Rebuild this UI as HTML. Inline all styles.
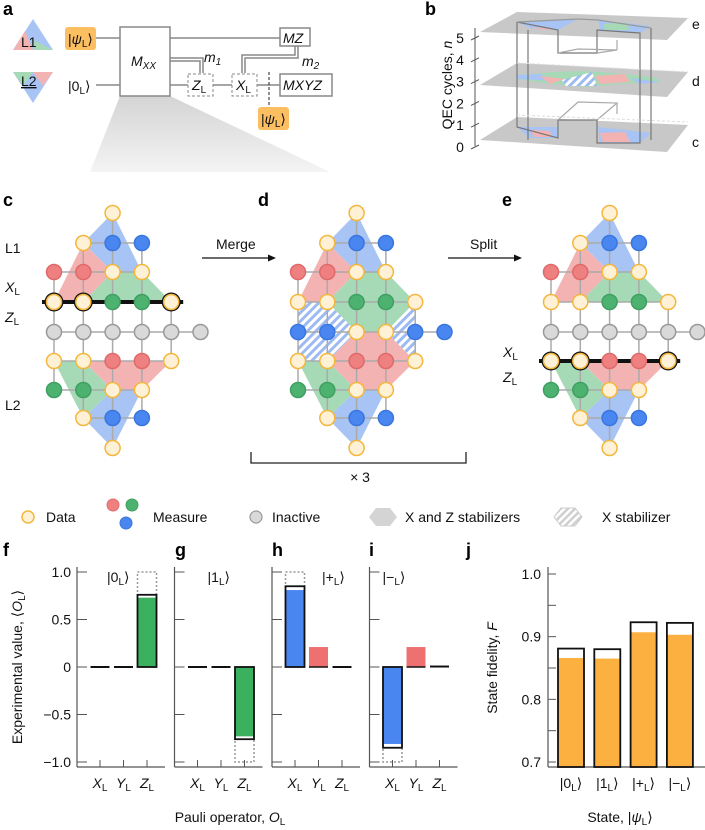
<!DOCTYPE html>
<html><head><meta charset="utf-8"><style>
body{margin:0;background:#fff}
svg{display:block;font-family:"Liberation Sans",sans-serif}
.pl{font-weight:bold;font-size:18px}
.t{font-size:14px;fill:#111}
.it{font-style:italic}
</style></head><body>
<svg id="fig" width="705" height="830" viewBox="0 0 705 830" xmlns="http://www.w3.org/2000/svg">
<defs>
<pattern id="hatch" width="6" height="6" patternUnits="userSpaceOnUse" patternTransform="rotate(45)">
<rect width="6" height="6" fill="#fff"/><rect width="3" height="6" fill="#9dbbf2"/></pattern>
<pattern id="hatchg" width="5" height="5" patternUnits="userSpaceOnUse" patternTransform="rotate(45)">
<rect width="5" height="5" fill="#fff"/><rect width="2.5" height="5" fill="#cfcfcf"/></pattern>
<linearGradient id="wedge" x1="0" y1="0" x2="0" y2="1"><stop offset="0" stop-color="#d4d4d4"/><stop offset="1" stop-color="#f4f4f4"/></linearGradient>
</defs>

<!-- Panel a -->
<g>
<polygon points="120,96 170,96 330,172 90,172" fill="url(#wedge)"/>
<text class="pl" x="3" y="15">a</text>
<g>
<polygon points="33,19 13,50 53,50" fill="#a8c4f4"/><polygon points="25,31 13,50 33,50" fill="#f3b3b3"/><polygon points="33,40 53,50 33,50" fill="#a6d9b6"/>
<text x="21" y="47" class="t">L1</text></g>
<g>
<polygon points="13,72 53,72 33,103" fill="#a8c4f4"/><polygon points="33,72 53,72 43,86" fill="#f3b3b3"/><polygon points="13,72 33,72 23,86" fill="#a6d9b6"/>
<text x="21" y="86" class="t" text-decoration="underline">L2</text></g>
<g stroke="#888" stroke-width="1.5" fill="none">
<line x1="96" y1="38" x2="120" y2="38"/><line x1="170" y1="38" x2="280" y2="38"/>
<line x1="96" y1="85" x2="120" y2="85"/><line x1="170" y1="85" x2="188" y2="85"/>
<line x1="213" y1="85" x2="232" y2="85"/><line x1="257" y1="85" x2="280" y2="85"/>
<polyline points="170,58 203,58 203,73"/><polyline points="170,61 200,61 200,73"/>
<polyline points="298,46 298,58 245,58 245,73"/><polyline points="295,46 295,55 242,55 242,73"/>
</g>
<rect x="65" y="27" width="31" height="23" rx="3" fill="#fbbf62"/>
<text x="68" y="44" class="t">|<tspan class="it">ψ</tspan><tspan font-size="10" dy="3">L</tspan><tspan dy="-3">⟩</tspan></text>
<text x="68" y="91" class="t">|0<tspan font-size="10" dy="3">L</tspan><tspan dy="-3">⟩</tspan></text>
<rect x="120" y="27" width="50" height="69" fill="#fff" stroke="#888" stroke-width="1.5"/>
<text x="131" y="66" class="t it">M<tspan font-size="10" dy="3">XX</tspan></text>
<text x="204" y="62" class="t it">m<tspan font-size="10" dy="3">1</tspan></text>
<text x="302" y="66" class="t it">m<tspan font-size="10" dy="3">2</tspan></text>
<rect x="280" y="28" width="30" height="18" fill="#fff" stroke="#888" stroke-width="1.5"/>
<text x="283" y="43" class="t it">MZ</text>
<rect x="188" y="74" width="25" height="22" fill="#fff" stroke="#888" stroke-dasharray="3,2"/>
<text x="192" y="90" class="t it">Z<tspan font-size="10" dy="3" font-style="normal">L</tspan></text>
<rect x="232" y="74" width="25" height="22" fill="#fff" stroke="#888" stroke-dasharray="3,2"/>
<text x="236" y="90" class="t it">X<tspan font-size="10" dy="3" font-style="normal">L</tspan></text>
<line x1="269" y1="72" x2="269" y2="106" stroke="#222" stroke-dasharray="3,2"/>
<rect x="280" y="74" width="52" height="22" fill="#fff" stroke="#888" stroke-width="1.5"/>
<text x="283" y="90" class="t it">MXYZ</text>
<rect x="258" y="107" width="31" height="23" rx="3" fill="#fbbf62"/>
<text x="261" y="124" class="t">|<tspan class="it">ψ</tspan><tspan font-size="10" dy="3">L</tspan><tspan dy="-3">⟩</tspan></text>
</g>

<!-- Panel b -->
<g>
<text class="pl" x="425" y="15">b</text>
<polygon points="517,12 688,18 667,40 480,32" fill="#c8c8c8"/>
<polygon points="517,63 688,72 667,97 480,85" fill="#c8c8c8"/>
<polygon points="517,117 688,125 667,152 480,140" fill="#c8c8c8"/>
<polygon points="517,22 578,19 558,30 530,28" fill="#a8c4f4"/><polygon points="530,27 555,29 558,30 540,29" fill="#f3b3b3"/>
<polygon points="598,20 651,26 640,33 600,30" fill="#a8c4f4"/><polygon points="603,24 625,22 630,30 605,30" fill="#a6d9b6"/>
<polygon points="517,75 555,72 586,71 625,74 657,78 660,82 620,84 585,87 550,84 517,79" fill="#a6d9b6"/>
<polygon points="517,75 540,74 555,81 517,79" fill="#a8c4f4"/><polygon points="540,76 565,79 550,84" fill="#f3b3b3"/>
<polygon points="562,80 592,72 597,86 566,86" fill="url(#hatch)"/>
<polygon points="595,76 625,74 630,82 600,84" fill="#f3b3b3"/><polygon points="630,78 660,82 640,84" fill="#a8c4f4"/>
<polygon points="517,127 558,127 558,138 530,138" fill="#a8c4f4"/><polygon points="530,130 550,131 552,137 534,137" fill="#f3b3b3"/>
<polygon points="598,127 651,133 640,143 600,143" fill="#a8c4f4"/><polygon points="600,133 625,132 630,142 603,142" fill="#f3b3b3"/>
<g stroke="#777" stroke-width="1.2" fill="none">
<polyline points="517,22 558,30 558,53 597,53 597,30 640,33 640,143 597,143 597,120 558,120 558,138 517,127 517,22"/>
<line x1="528" y1="30" x2="528" y2="140"/><line x1="651" y1="28" x2="651" y2="140"/>
<polyline points="517,22 578,19 598,20 651,28" stroke="#999"/>
<polyline points="558,53 578,49 617,50 597,53" stroke="#aaa"/><line x1="617" y1="50" x2="617" y2="40" stroke="#aaa"/>
<polyline points="558,120 578,102 617,103 597,120" stroke="#aaa"/><line x1="617" y1="103" x2="617" y2="114" stroke="#aaa"/>
</g>
<line x1="517" y1="63" x2="688" y2="72" stroke="#ddd" stroke-dasharray="3,2"/>
<line x1="517" y1="115" x2="688" y2="122" stroke="#ddd" stroke-dasharray="3,2"/>
<line x1="475" y1="28" x2="475" y2="146" stroke="#555"/>
<g id="baxis" class="t"></g>
<text class="t" transform="translate(452,85) rotate(-90)" text-anchor="middle">QEC cycles, <tspan class="it">n</tspan></text>
<text class="t" x="692" y="29">e</text><text class="t" x="692" y="86">d</text><text class="t" x="692" y="147">c</text>
</g>

<!-- Lattice panels -->
<g id="lattices"></g>
<text class="pl" x="3" y="206">c</text><text class="pl" x="258" y="206">d</text><text class="pl" x="502" y="206">e</text>
<text class="t" x="5" y="253">L1</text>
<text class="t it" x="5" y="292">X<tspan font-size="10" dy="3" font-style="normal">L</tspan></text>
<text class="t it" x="5" y="322">Z<tspan font-size="10" dy="3" font-style="normal">L</tspan></text>
<text class="t" x="5" y="410">L2</text>
<text class="t it" x="503" y="357">X<tspan font-size="10" dy="3" font-style="normal">L</tspan></text>
<text class="t it" x="503" y="382">Z<tspan font-size="10" dy="3" font-style="normal">L</tspan></text>
<g><text class="t" x="216" y="249">Merge</text>
<line x1="202" y1="258" x2="272" y2="258" stroke="#111" stroke-width="1.3"/><polygon points="276,258 268,254.5 268,261.5" fill="#111"/></g>
<g><text class="t" x="470" y="249">Split</text>
<line x1="448" y1="258" x2="518" y2="258" stroke="#111" stroke-width="1.3"/><polygon points="522,258 514,254.5 514,261.5" fill="#111"/></g>
<polyline points="251,452 251,463 466,463 466,452" fill="none" stroke="#222" stroke-width="1.3"/>
<text class="t" x="360" y="482" text-anchor="middle">× 3</text>

<!-- Legend -->
<g class="t">
<circle cx="28" cy="517" r="6" fill="#fff1d6" stroke="#f4b73d" stroke-width="1.5"/><text x="46" y="522">Data</text>
<circle cx="113" cy="505" r="6" fill="#ef8080" stroke="#e26d6d"/><circle cx="132" cy="505" r="6" fill="#4db26f" stroke="#3fa062"/><circle cx="126" cy="523" r="6" fill="#4a86ef" stroke="#3a76df"/>
<text x="153" y="522">Measure</text>
<circle cx="256" cy="517" r="6" fill="#d9d9d9" stroke="#999" stroke-width="1.2"/><text x="272" y="522">Inactive</text>
<polygon points="376,508 390,508 397,517 390,526 376,526 369,517" fill="#d4d4d4"/><text x="405" y="522">X and Z stabilizers</text>
<polygon points="561,508 575,508 582,517 575,526 561,526 554,517" fill="url(#hatchg)" stroke="#ccc"/><text x="602" y="522">X stabilizer</text>
</g>

<!-- Bottom charts -->
<g id="charts"></g>
<text class="pl" x="3" y="556">f</text><text class="pl" x="175" y="556">g</text><text class="pl" x="272" y="556">h</text><text class="pl" x="369" y="556">i</text><text class="pl" x="466" y="556">j</text>
<text class="t" transform="translate(22,667) rotate(-90)" text-anchor="middle">Experimental value, ⟨<tspan class="it">O</tspan><tspan font-size="10" dy="3">L</tspan><tspan dy="-3">⟩</tspan></text>
<text class="t" x="230" y="822" text-anchor="middle">Pauli operator, <tspan class="it">O</tspan><tspan font-size="10" dy="3">L</tspan></text>
<text class="t" transform="translate(497,668) rotate(-90)" text-anchor="middle">State fidelity, <tspan class="it">F</tspan></text>
<text class="t" x="620" y="822" text-anchor="middle">State, |<tspan class="it">ψ</tspan><tspan font-size="10" dy="3">L</tspan><tspan dy="-3">⟩</tspan></text>
</svg>
<script>
const NS="http://www.w3.org/2000/svg";
// ---- chart data ----
const pauliOps=["X","Y","Z"];
const expStates=["0","1","+","−"];
const expFill=[[0,0,0.73],[0,0,-0.73],[0.81,0.21,0],[-0.81,0.21,0.005]];
const expOutline=[[0,0,0.76],[0,0,-0.76],[0.85,0,0],[-0.85,0,0]];
const expIdeal=[[0,0,1],[0,0,-1],[1,0,0],[-1,0,0]];
const expTicks=[1,0.5,0,-0.5,-1];
const expTickLabels=["1.0","0.5","0","−0.5","−1.0"];
const fidStates=["0","1","+","−"];
const fidMeasured=[0.866,0.865,0.907,0.903];
const fidOutline=[0.881,0.880,0.923,0.922];
const fidTicks=[1.0,0.9,0.8,0.7];
const fidMinor=[0.95,0.85,0.75];
const cycleTicks=[0,1,2,3,4,5];

function mk(tag,attrs,parent){const e=document.createElementNS(NS,tag);for(const k in attrs)e.setAttribute(k,attrs[k]);if(parent)parent.appendChild(e);return e;}
const charts=document.getElementById('charts');
// b axis
const bax=document.getElementById('baxis');
cycleTicks.forEach(n=>{const y=147-n*21.8;
 const l=mk('line',{x1:471,y1:y+2,x2:479,y2:y-2,stroke:'#555'},bax);
 
 
 const t=mk('text',{x:460,y:y+5,'text-anchor':'middle'},bax);t.textContent=n;
 
 });

// expectation panels
const yE=v=>667-v*95;
const barColor=(s,o)=>o===2?"#3bb05f":(o===0?"#4a86ef":"#ef7070");
expStates.forEach((s,k)=>{
 const x0=77+k*97.5;
 const g=mk('g',{},charts);
 
 
 mk('line',{x1:x0,y1:567,x2:x0,y2:767,stroke:'#555','stroke-width':1.2},g);
 mk('line',{x1:x0,y1:767,x2:x0+88,y2:767,stroke:'#555','stroke-width':1.2},g);
 expTicks.forEach((v,i)=>{mk('line',{x1:x0,y1:yE(v),x2:x0+10,y2:yE(v),stroke:'#555'},g);
  if(k===0){const t=mk('text',{x:x0-6,y:yE(v)+5,'text-anchor':'end',class:'t'},g);t.textContent=expTickLabels[i];}});
 const lab=mk('text',{x:x0+[30,33,50,13][k],y:582,class:'t'},g);
 lab.innerHTML='|'+s+'<tspan font-size="10" dy="3">L</tspan><tspan dy="-3">⟩</tspan>';
 pauliOps.forEach((o,j)=>{
  const cx=x0+23+j*23.5,w=19;
  mk('line',{x1:cx,y1:767,x2:cx,y2:760,stroke:'#555'},g);
  const tl=mk('text',{x:cx,y:788,'text-anchor':'middle',class:'t it'},g);
  tl.innerHTML=o+'<tspan font-size="10" dy="3" font-style="normal">L</tspan>';
  const id=expIdeal[k][j],f=expFill[k][j],ol=expOutline[k][j];
  if(id!==0){const r=mk('rect',{x:cx-w/2,y:Math.min(yE(id),yE(0)),width:w,height:Math.abs(yE(id)-yE(0)),fill:'none',stroke:'#999','stroke-width':1.5,'stroke-dasharray':'2,2'},g);
   
   }
  if(Math.abs(f)>0.02){const b=mk('rect',{x:cx-w/2,y:Math.min(yE(f),yE(0)),width:w,height:Math.abs(yE(f)-yE(0)),fill:barColor(k,j)},g);
   
   }
  if(ol!==0){const b=mk('rect',{x:cx-w/2,y:Math.min(yE(ol),yE(0)),width:w,height:Math.abs(yE(ol)-yE(0)),fill:'none',stroke:'#111','stroke-width':1.8},g);
   
   }
  else if(Math.abs(f)<=0.02){const z=mk('rect',{x:cx-w/2,y:yE(Math.max(f,0))-1,width:w,height:Math.max(2,Math.abs(yE(f)-yE(0))),fill:'#111'},g);
   
   }
  else {mk('line',{x1:cx-w/2,y1:yE(0),x2:cx+w/2,y2:yE(0),stroke:'#111','stroke-width':1.5},g);}
 });
});

// fidelity panel
const yF=v=>762-(v-0.7)/0.3*188;
const gj=mk('g',{},charts);


mk('line',{x1:548,y1:567,x2:548,y2:767,stroke:'#555','stroke-width':1.2},gj);
mk('line',{x1:548,y1:767,x2:705,y2:767,stroke:'#555','stroke-width':1.2},gj);
fidTicks.forEach(v=>{mk('line',{x1:548,y1:yF(v),x2:556,y2:yF(v),stroke:'#555'},gj);
 const t=mk('text',{x:541,y:yF(v)+5,'text-anchor':'end',class:'t'},gj);t.textContent=v.toFixed(1);});
fidMinor.forEach(v=>mk('line',{x1:548,y1:yF(v),x2:556,y2:yF(v),stroke:'#555'},gj));
fidStates.forEach((s,i)=>{const cx=571+i*36.3,w=26;
 const b=mk('rect',{x:cx-w/2,y:yF(fidMeasured[i]),width:w,height:767-yF(fidMeasured[i]),fill:'#fbb040'},gj);
 
 
 const o=mk('rect',{x:cx-w/2,y:yF(fidOutline[i]),width:w,height:767-yF(fidOutline[i]),fill:'none',stroke:'#111','stroke-width':1.8},gj);
 
 
 const t=mk('text',{x:cx,y:788,'text-anchor':'middle',class:'t'},gj);
 t.innerHTML='|'+s+'<tspan font-size="10" dy="3">L</tspan><tspan dy="-3">⟩</tspan>';});

// ---- lattices ----
const lat=document.getElementById('lattices');
const rowsY=[213,243,272,302,332,361,390,418,448];
const gridC=["..D...",".DBB..","RRDD..","DDGGD.","IIIIII","DDRRD.","GGDD..",".DBB..","..D..."];
const gridD=["..D...",".DBB..","RRDD..","DDGGD.","BBDDBB","DDRRD.","GGDD..",".DBB..","..D..."];
const panels=[{x0:54,grid:gridC,hl:3,name:'lattice-c'},{x0:298,grid:gridD,hl:-1,name:'lattice-d'},{x0:551,grid:gridC,hl:5,name:'lattice-e'}];
const nodeStyle={D:['#fff1d6','#f4b73d'],R:['#ef8080','#e06a6a'],G:['#4db26f','#3fa062'],B:['#4a86ef','#3a76df'],I:['#d9d9d9','#999']};
panels.forEach(p=>{
 const g=mk('g',{},lat);
 
 
 const P=(c,r)=>(p.x0+c*29.3)+','+rowsY[r];
 const poly=(pts,fill)=>mk('polygon',{points:pts.map(q=>P(q[0],q[1])).join(' '),fill:fill},g);
 poly([[2,0],[1,1],[2,2],[3,2]],'#a8c4f4');
 poly([[1,1],[0,3],[1,3],[2,2]],'#f3b3b3');
 poly([[2,6],[3,6],[2,8],[1,7]],'#a8c4f4');
 poly([[0,5],[1,5],[2,6],[1,7]],'#a6d9b6');
 if(p.hl<0){
  poly([[1,3],[2,2],[3,2],[4,3],[3,4],[2,4]],'#a6d9b6');
  poly([[1,5],[2,4],[3,4],[4,5],[3,6],[2,6]],'#f3b3b3');
  poly([[0,3],[1,3],[2,4],[1,5],[0,5]],'url(#hatch)');
  poly([[4,3],[4,5],[3,4]],'url(#hatch)');
 } else {
  poly([[1,3],[2,2],[3,2],[4,3]],'#a6d9b6');
  poly([[1,5],[2,6],[3,6],[4,5]],'#f3b3b3');
 }
 const X=c=>p.x0+c*29.3;
 const gr=p.grid;
 for(let r=0;r<9;r++)for(let c=0;c<6;c++){if(gr[r][c]==='.')continue;
  if(c<5&&gr[r][c+1]!=='.')mk('line',{x1:X(c),y1:rowsY[r],x2:X(c+1),y2:rowsY[r],stroke:'#aaa','stroke-width':1.5},g);
  if(r<8&&gr[r+1][c]!=='.')mk('line',{x1:X(c),y1:rowsY[r],x2:X(c),y2:rowsY[r+1],stroke:'#aaa','stroke-width':1.5},g);}
 if(p.hl>=0)mk('line',{x1:X(0)-12,y1:rowsY[p.hl],x2:X(4)+12,y2:rowsY[p.hl],stroke:'#111','stroke-width':4},g);
 for(let r=0;r<9;r++)for(let c=0;c<6;c++){const t=gr[r][c];if(t==='.')continue;
  const s=nodeStyle[t];
  if(r===p.hl&&t==='D')mk('circle',{cx:X(c),cy:rowsY[r],r:9.5,fill:'#111'},g);
  const n=mk('circle',{cx:X(c),cy:rowsY[r],r:7.5,fill:s[0],stroke:s[1],'stroke-width':1.5},g);
  
  }
});
</script>
</body></html>
